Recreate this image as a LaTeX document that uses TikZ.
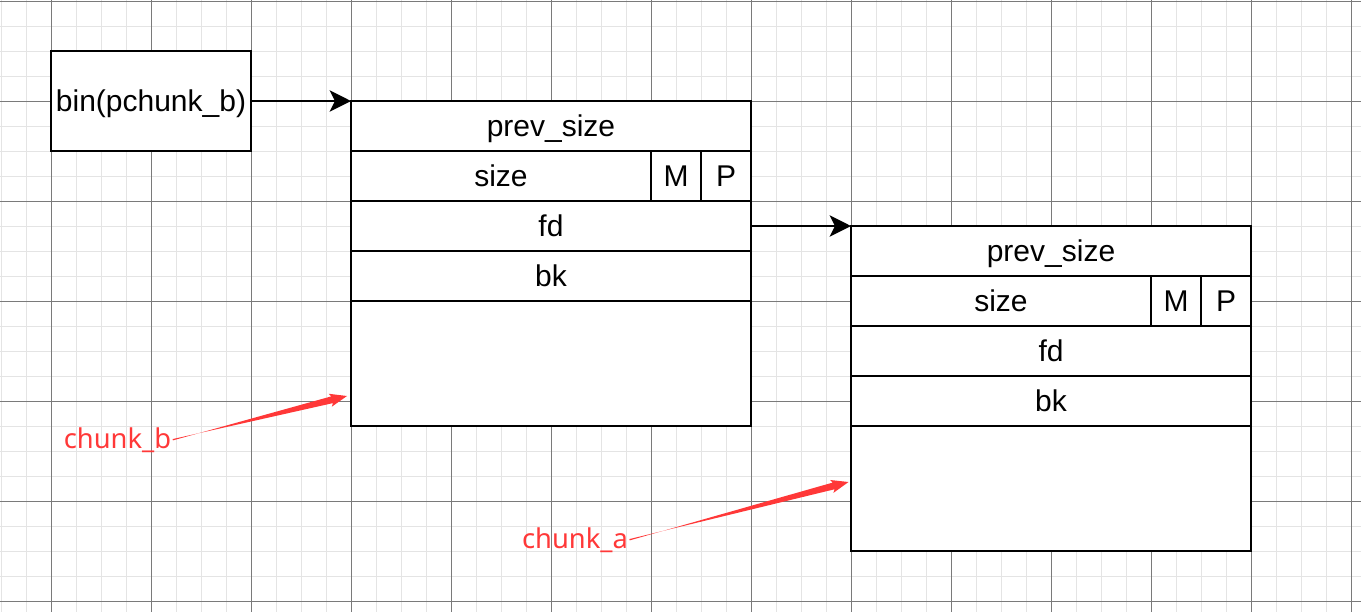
\documentclass[tikz,border=0pt]{standalone}
\usepackage{fontspec}
\setmainfont{Liberation Sans}
\newfontfamily\labelfont{Noto Sans}
\usetikzlibrary{arrows.meta,calc}
\definecolor{minorgrid}{HTML}{E4E4E4}
\definecolor{majorgrid}{HTML}{7A7A7A}
\definecolor{arrred}{HTML}{FF3838}
\tikzset{
  cell/.style={draw=black, fill=white, line width=2pt, inner sep=0pt, outer sep=0pt,
    anchor=north west, font=\fontsize{22.5}{27}\selectfont,
    text height=20.4pt, text depth=4.8pt},
  sz/.style 2 args={minimum width={#1*0.75pt}, minimum height={#2*0.75pt}},
  link/.style={line width=2pt, -{Stealth[length=16pt,width=16pt,inset=4pt]}},
  redlabel/.style={text=arrred, font=\labelfont\fontsize{20.5}{24}\selectfont, inner sep=1pt, anchor=base},
}
\newcommand\sketcharrow[3]{%
  \coordinate (#3h) at ($(#2)!13pt!(#1)$);
  \coordinate (#3j) at ($(#2)!11.5pt!(#1)$);
  \fill[arrred] ($(#1)!0.5pt!90:(#2)$) -- ($(#3j)!2.6pt!-90:(#2)$) -- ($(#3h)!5pt!-90:(#2)$)
    -- (#2) -- ($(#3h)!5pt!90:(#2)$) -- ($(#3j)!2.6pt!90:(#2)$) -- ($(#1)!0.5pt!-90:(#2)$) -- cycle;
}
\begin{document}
\begin{tikzpicture}[x=0.75pt,y=0.75pt]
\useasboundingbox (0,0) rectangle (1361,-612);
\fill[white] (0,0) rectangle (1361,-612);
% grid
\foreach \i in {0,...,54} \draw[minorgrid, line width=1.4pt] (1.5+25*\i,0) -- (1.5+25*\i,-612);
\foreach \i in {0,...,24} \draw[minorgrid, line width=1.4pt] (0,-1.5-25*\i) -- (1361,-1.5-25*\i);
\foreach \i in {0,...,13} \draw[majorgrid, line width=0.8pt] (51.5+100*\i,0) -- (51.5+100*\i,-612);
\foreach \i in {0,...,6} \draw[majorgrid, line width=0.8pt] (0,-1.5-100*\i) -- (1361,-1.5-100*\i);

% bin
\node[cell, sz={200}{100}] (bin) at (51,-51) {bin(pchunk\_b)};

% chunk b
\node[cell, sz={400}{50}] (bprev) at (351,-101) {prev\_size};
\node[cell, sz={300}{50}] (bsize) at (351,-151) {size};
\node[cell, sz={50}{50}] (bM) at (651,-151) {M};
\node[cell, sz={50}{50}] (bP) at (701,-151) {P};
\node[cell, sz={400}{50}] (bfd) at (351,-201) {fd};
\node[cell, sz={400}{50}] (bbk) at (351,-251) {bk};
\node[cell, sz={400}{125}] (bdata) at (351,-301) {};

% chunk a
\node[cell, sz={400}{50}] (aprev) at (851,-226) {prev\_size};
\node[cell, sz={300}{50}] (asize) at (851,-276) {size};
\node[cell, sz={50}{50}] (aM) at (1151,-276) {M};
\node[cell, sz={50}{50}] (aP) at (1201,-276) {P};
\node[cell, sz={400}{50}] (afd) at (851,-326) {fd};
\node[cell, sz={400}{50}] (abk) at (851,-376) {bk};
\node[cell, sz={400}{125}] (adata) at (851,-426) {};

% links
\draw[link] (bin.east) -- (bprev.north west);
\draw[link] (bfd.east) -- (aprev.north west);

% red labels
\node[redlabel] (lb) at (117.5,-448) {chunk\_b};
\node[redlabel] (la) at (575,-548) {chunk\_a};
\coordinate (tb) at (347,-396);
\coordinate (ta) at (848.5,-482);
\sketcharrow{lb.east}{tb}{rb}
\sketcharrow{la.east}{ta}{ra}
\end{tikzpicture}
\end{document}
